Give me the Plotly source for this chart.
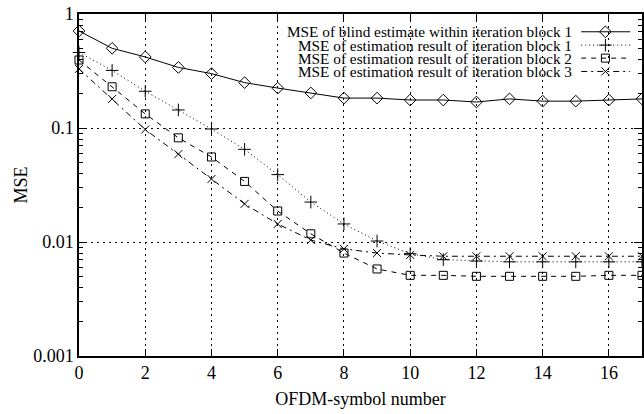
import plotly.graph_objects as go

# ---- data ----
symbols = list(range(18))
mse_blind = [0.71, 0.50, 0.42, 0.34, 0.30, 0.25, 0.224, 0.203, 0.183, 0.183,
             0.176, 0.176, 0.169, 0.180, 0.172, 0.172, 0.176, 0.180]
mse_blk1 = [0.46, 0.32, 0.21, 0.144, 0.098, 0.065, 0.039, 0.0224, 0.0144, 0.0102,
            0.0079, 0.0070, 0.0068, 0.0067, 0.0067, 0.0067, 0.0067, 0.0067]
mse_blk2 = [0.395, 0.23, 0.133, 0.082, 0.0557, 0.034, 0.0187, 0.0118, 0.0080, 0.0058,
            0.0051, 0.0051, 0.0050, 0.0050, 0.0050, 0.0050, 0.0051, 0.0051]
mse_blk3 = [0.33, 0.18, 0.097, 0.059, 0.0357, 0.0216, 0.0144, 0.0104, 0.0087, 0.0080,
            0.0077, 0.0075, 0.0075, 0.0075, 0.0075, 0.0075, 0.0075, 0.0075]

series_names = [
    "MSE of blind estimate within iteration block 1",
    "MSE of estimation result of iteration block 1",
    "MSE of estimation result of iteration block 2",
    "MSE of estimation result of iteration block 3",
]
y_major = [0.001, 0.01, 0.1, 1]
y_major_text = ["0.001", "0.01", "0.1", "1"]
y_minor = [m * d for d in (0.001, 0.01, 0.1) for m in range(2, 10)]
x_ticks = list(range(0, 18, 2))

FONT = "Liberation Serif"
styles = [
    dict(dash="solid", symbol="diamond-open", size=9),
    dict(dash="1px,3px", symbol="cross-thin", size=9),
    dict(dash="5px,5px", symbol="square-open", size=8),
    dict(dash="6px,4px,2px,4px", symbol="x-thin", size=8),
]
series = [mse_blind, mse_blk1, mse_blk2, mse_blk3]

fig = go.Figure()
for ys, st, nm in zip(series, styles, series_names):
    fig.add_trace(go.Scatter(
        x=symbols, y=ys, name=nm, mode="lines+markers", cliponaxis=False,
        line=dict(color="black", width=1, dash=st["dash"]),
        marker=dict(symbol=st["symbol"], size=st["size"], color="black",
                    line=dict(color="black", width=1)),
        showlegend=False,
    ))

# custom gnuplot-style legend (text right-aligned, sample on the right)
row_y = [0.948, 0.909, 0.871, 0.832]
for st, nm, ry in zip(styles, series_names, row_y):
    fig.add_trace(go.Scatter(
        x=[0.892, 0.935, 0.979], y=[ry, ry, ry], xaxis="x2", yaxis="y2",
        mode="lines", line=dict(color="black", width=1, dash=st["dash"]),
        showlegend=False, hoverinfo="skip", cliponaxis=False,
    ))
    fig.add_trace(go.Scatter(
        x=[0.935], y=[ry], xaxis="x2", yaxis="y2", mode="markers",
        marker=dict(symbol=st["symbol"], size=st["size"], color="black",
                    line=dict(color="black", width=1)),
        showlegend=False, hoverinfo="skip", cliponaxis=False,
    ))
    fig.add_annotation(x=0.878, y=ry, xref="paper", yref="paper", text=nm,
                       showarrow=False, xanchor="right", yanchor="middle",
                       borderpad=0,
                       font=dict(family=FONT, size=15.3, color="black"))

fig.update_layout(
    width=644, height=414,
    margin=dict(l=79, r=0, t=14, b=58),
    paper_bgcolor="white", plot_bgcolor="white",
    font=dict(family=FONT, size=18, color="black"),
    showlegend=False,
    xaxis=dict(
        range=[0, 17], tickmode="array", tickvals=x_ticks,
        ticks="inside", ticklen=7, tickwidth=1, tickcolor="black",
        showline=True, linecolor="black", linewidth=1.5, mirror="ticks",
        showgrid=True, gridcolor="black", gridwidth=1, griddash="2px,4px",
        zeroline=False,
        title=dict(text="OFDM-symbol number", standoff=10,
                   font=dict(family=FONT, size=18)),
        tickfont=dict(family=FONT, size=18),
    ),
    yaxis=dict(
        type="log", range=[-3, 0], tickmode="array", tickvals=y_major,
        ticktext=y_major_text,
        ticks="inside", ticklen=8, tickwidth=1, tickcolor="black",
        showline=True, linecolor="black", linewidth=1.5, mirror="ticks",
        showgrid=True, gridcolor="black", gridwidth=1, griddash="2px,4px",
        zeroline=False,
        minor=dict(tickmode="array", tickvals=y_minor, ticks="inside",
                   ticklen=4, tickcolor="black", tickwidth=1, showgrid=False),
        title=dict(text="MSE", standoff=1, font=dict(family=FONT, size=18)),
        tickfont=dict(family=FONT, size=18),
    ),
    xaxis2=dict(range=[0, 1], overlaying="x", anchor="y2", visible=False,
                fixedrange=True),
    yaxis2=dict(range=[0, 1], overlaying="y", anchor="x2", visible=False,
                fixedrange=True),
)

fig.write_html("out.html")
